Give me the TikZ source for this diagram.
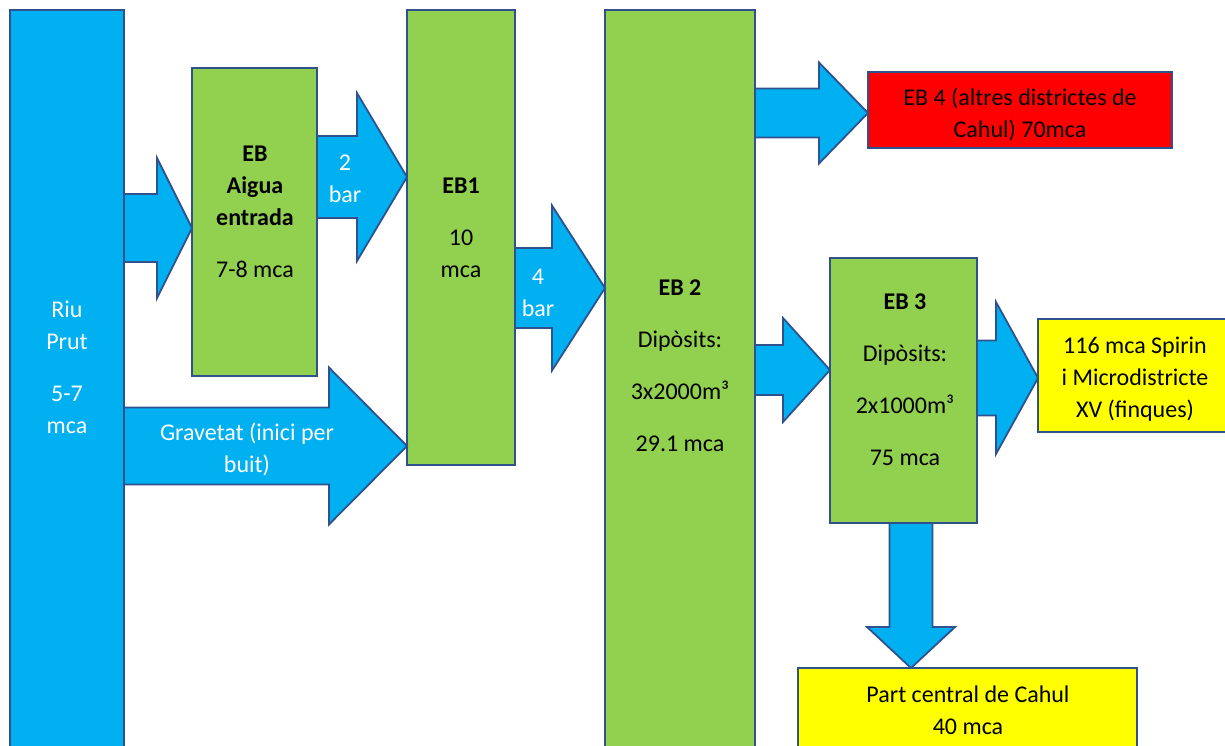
\documentclass[tikz,border=0pt]{standalone}
\usepackage{fontspec}
\setmainfont{Carlito}
\usetikzlibrary{calc}
\definecolor{bordc}{HTML}{2F528F}
\definecolor{bluef}{HTML}{00B0F0}
\definecolor{greenf}{HTML}{92D050}
\definecolor{redf}{HTML}{FF0000}
\definecolor{yellowf}{HTML}{FFFF00}
\tikzset{
  box/.style={draw=bordc, line width=1.8pt, rectangle, inner sep=0pt, outer sep=0pt, anchor=north west},
  bluebox/.style={box, fill=bluef},
  greenbox/.style={box, fill=greenf},
  redbox/.style={box, fill=redf},
  yellowbox/.style={box, fill=yellowf},
  blockarrow/.style={draw=bordc, line width=1.8pt, fill=bluef, line join=miter},
  txt/.style={anchor=base, align=flush center, text width=320pt, inner sep=0pt, font=\fontsize{24}{32}\selectfont},
  wtxt/.style={txt, text=white},
}
\newcommand\harr[5]{%
  \draw[blockarrow] ($(#1)+(0,-#3)$) -- ($(#2)+(-#5,-#3)$) -- ($(#2)+(-#5,-#4)$) -- (#2)
    -- ($(#2)+(-#5,#4)$) -- ($(#2)+(-#5,#3)$) -- ($(#1)+(0,#3)$) -- cycle;}
\begin{document}
\begin{tikzpicture}[x=1pt,y=-1pt]
\useasboundingbox (0,0) rectangle (1225,745);
\clip (0,0) rectangle (1225,745);
% boxes
\node[bluebox, minimum width=114pt, minimum height=750pt] (riu) at (10,10) {};
\node[greenbox, minimum width=125pt, minimum height=308pt] (eba) at (192,68) {};
\node[greenbox, minimum width=108pt, minimum height=455pt] (eb1) at (407,10) {};
\node[greenbox, minimum width=150pt, minimum height=750pt] (eb2) at (605,10) {};
\node[greenbox, minimum width=147pt, minimum height=265pt] (eb3) at (830,258) {};
\node[redbox, minimum width=304pt, minimum height=76pt] (eb4) at (868,72) {};
\node[yellowbox, minimum width=210pt, minimum height=113pt] (sp) at (1038,319) {};
\node[yellowbox, minimum width=339pt, minimum height=100pt] (pc) at (798,668) {};
% block arrows
\harr{riu.east |- 0,228}{eba.west |- 0,228}{34}{70}{35}
\harr{eba.east |- 0,177}{eb1.west |- 0,177}{41}{84}{50}
\harr{riu.east |- 0,446}{eb1.west |- 0,446}{38.5}{78.5}{78}
\harr{eb1.east |- 0,288}{eb2.west |- 0,288}{40}{82.5}{53}
\harr{eb2.east |- 0,113}{eb4.west |- 0,113}{24.5}{50.5}{49}
\harr{eb2.east |- 0,370}{eb3.west |- 0,370}{25}{52}{47}
\harr{eb3.east |- 0,378}{sp.west |- 0,378}{37.5}{76}{42}
\draw[blockarrow] ($(eb3.south -| 911,0)+(-21.5,0)$) -- ($(pc.north -| 911,0)+(-21.5,-41)$)
  -- ($(pc.north -| 911,0)+(-44,-41)$) -- (pc.north -| 911,0) -- ($(pc.north -| 911,0)+(44,-41)$)
  -- ($(pc.north -| 911,0)+(21.5,-41)$) -- ($(eb3.south -| 911,0)+(21.5,0)$) -- cycle;
% texts
\node[wtxt] (riuT) at (67,317) {Riu\\Prut\\[20pt]5-7\\mca};
\node[txt] (ebaT) at (255,161) {\textbf{EB}\\\textbf{Aigua}\\\textbf{entrada}\\[20pt]7-8 mca};
\node[wtxt] (bar2) at (345,170) {2\\bar};
\node[txt] (eb1T) at (461,193) {\textbf{EB1}\\[20pt]10\\mca};
\node[wtxt] (bar4) at (538,284) {4\\bar};
\node[txt] (eb2T) at (680,295) {\textbf{EB 2}\\[20pt]Dipòsits:\\[20pt]3x2000m³\\[20pt]29.1 mca};
\node[txt] (eb3T) at (905,309) {\textbf{EB 3}\\[20pt]Dipòsits:\\[20pt]2x1000m³\\[20pt]75 mca};
\node[wtxt] (grav) at (247,440) {Gravetat (inici per\\buit)};
\node[txt] (eb4T) at (1020,105) {EB 4 (altres districtes de\\Cahul) 70mca};
\node[txt] (spT) at (1135,353) {116 mca Spirin\\i Microdistricte\\XV (finques)};
\node[txt] (pcT) at (968,702) {Part central de Cahul\\40 mca};
\end{tikzpicture}
\end{document}
